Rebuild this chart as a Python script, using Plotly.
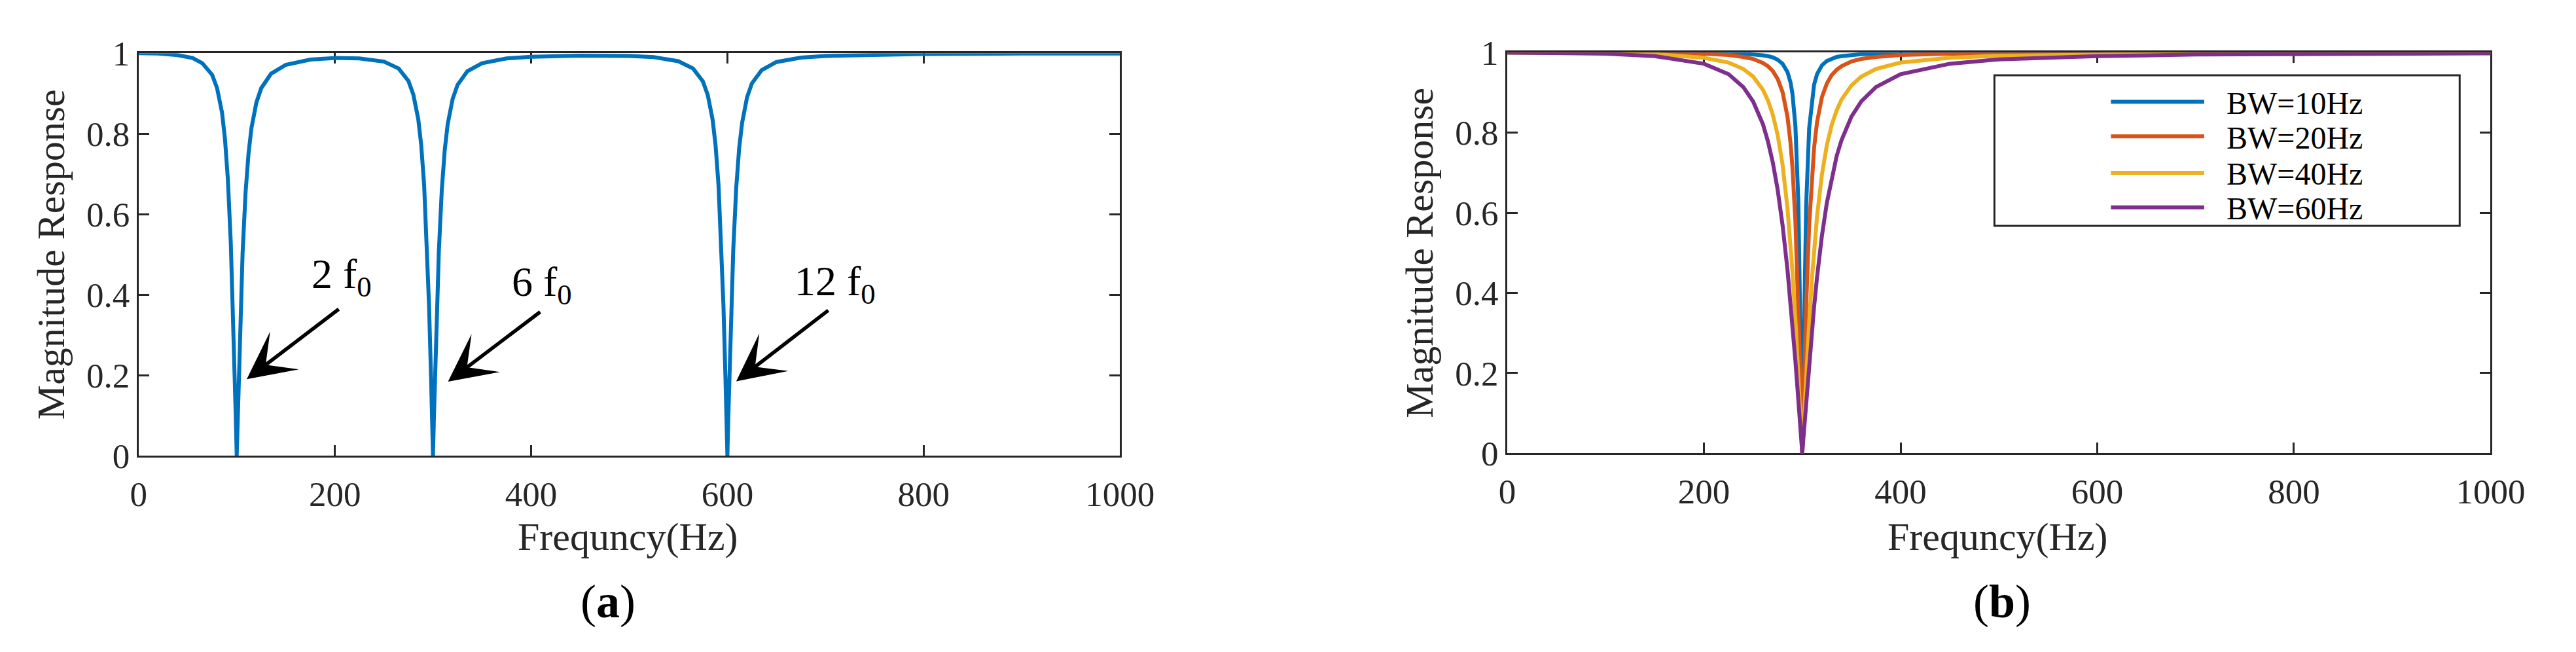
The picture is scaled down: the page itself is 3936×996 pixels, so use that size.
import plotly.graph_objects as go

# ---------------- data ----------------
FREQ_A = [0, 20, 40, 55, 65, 75, 80, 85, 88, 91, 94, 96, 98, 99, 100, 101, 102, 104, 106, 109,
          112, 115, 120, 125, 135, 150, 175, 200, 225, 250, 265, 275, 280, 285, 288, 291, 294, 296, 298, 299,
          300, 301, 302, 304, 306, 309, 312, 315, 320, 325, 335, 350, 375, 400, 450, 500, 525, 550, 565, 575,
          580, 585, 588, 591, 594, 596, 598, 599, 600, 601, 602, 604, 606, 609, 612, 615, 620, 625, 635, 650,
          675, 700, 750, 800, 900, 1000]
MAG_A = [1.000, 0.999, 0.995, 0.988, 0.975, 0.946, 0.913, 0.853, 0.788, 0.686,
         0.526, 0.378, 0.198, 0.100, 0.0, 0.099, 0.194, 0.365, 0.504, 0.653,
         0.750, 0.814, 0.877, 0.913, 0.949, 0.971, 0.984, 0.988, 0.987, 0.979,
         0.962, 0.931, 0.897, 0.836, 0.772, 0.672, 0.517, 0.372, 0.196, 0.099,
         0.0, 0.099, 0.195, 0.368, 0.509, 0.661, 0.760, 0.824, 0.886, 0.921,
         0.955, 0.975, 0.987, 0.991, 0.994, 0.993, 0.990, 0.980, 0.962, 0.930,
         0.896, 0.834, 0.770, 0.671, 0.516, 0.372, 0.196, 0.099, 0.0, 0.099,
         0.195, 0.370, 0.512, 0.665, 0.764, 0.827, 0.890, 0.925, 0.958, 0.978,
         0.989, 0.993, 0.996, 0.998, 0.999, 0.999]

FREQ_B = [0, 50, 100, 150, 200, 225, 240, 250, 260, 265,
          270, 275, 280, 285, 288, 290, 293, 296, 298, 299,
          300, 301, 302, 304, 307, 310, 312, 315, 320, 325,
          330, 335, 340, 350, 360, 375, 400, 450, 500, 600,
          700, 800, 900, 1000]
MAG_BW10 = [1.000, 1.000, 1.000, 1.000, 0.999, 0.998, 0.997, 0.996, 0.993, 0.991,
            0.988, 0.982, 0.972, 0.951, 0.926, 0.897, 0.817, 0.627, 0.372, 0.196,
            0.0, 0.196, 0.370, 0.622, 0.811, 0.891, 0.920, 0.946, 0.968, 0.979,
            0.985, 0.989, 0.991, 0.994, 0.996, 0.997, 0.998, 0.999, 1.000, 1.000,
            1.000, 1.000, 1.000, 1.000]
MAG_BW20 = [1.000, 1.000, 1.000, 0.999, 0.997, 0.994, 0.989, 0.984, 0.974, 0.966,
            0.954, 0.934, 0.901, 0.839, 0.775, 0.713, 0.578, 0.374, 0.197, 0.100,
            0.0, 0.099, 0.195, 0.369, 0.569, 0.701, 0.762, 0.826, 0.889, 0.923,
            0.944, 0.957, 0.966, 0.978, 0.984, 0.989, 0.994, 0.997, 0.998, 0.999,
            0.999, 1.000, 1.000, 1.000]
MAG_BW40 = [1.000, 1.000, 0.999, 0.996, 0.987, 0.975, 0.959, 0.940, 0.907, 0.881,
            0.845, 0.794, 0.719, 0.610, 0.522, 0.453, 0.334, 0.197, 0.100, 0.050,
            0.0, 0.050, 0.099, 0.195, 0.327, 0.441, 0.507, 0.591, 0.696, 0.769,
            0.820, 0.856, 0.883, 0.918, 0.940, 0.959, 0.975, 0.987, 0.992, 0.996,
            0.998, 0.998, 0.999, 0.999]
MAG_BW60 = [1.000, 0.999, 0.997, 0.991, 0.972, 0.946, 0.914, 0.878, 0.821, 0.779,
            0.726, 0.657, 0.568, 0.457, 0.378, 0.321, 0.230, 0.133, 0.067, 0.033,
            0.0, 0.033, 0.066, 0.131, 0.225, 0.312, 0.365, 0.439, 0.543, 0.625,
            0.690, 0.742, 0.782, 0.840, 0.878, 0.914, 0.946, 0.972, 0.983, 0.991,
            0.995, 0.996, 0.997, 0.998]

BW_NAMES = ["BW=10Hz", "BW=20Hz", "BW=40Hz", "BW=60Hz"]
BW_COLORS = ["#0072BD", "#D95319", "#EDB120", "#7E2F8E"]

X_TICKS = [0, 200, 400, 600, 800, 1000]
Y_TICKS = [0, 0.2, 0.4, 0.6, 0.8, 1]
Y_TICK_TEXT = ["0", "0.2", "0.4", "0.6", "0.8", "1"]

# harmonic labels and arrows (panel a, data coords)
HARM_LABELS = ["2 f<sub>0</sub>", "6 f<sub>0</sub>", "12 f<sub>0</sub>"]
LABEL_X = [207.0, 411.0, 710.0]
LABEL_Y = [0.445, 0.425, 0.427]
ARROW_HEAD_X = [110.2, 315.3, 609.0]
ARROW_HEAD_Y = [0.190, 0.184, 0.185]
ARROW_TAIL_X = [205.0, 410.2, 703.8]
ARROW_TAIL_Y = [0.366, 0.359, 0.363]

# ---------------- figure ----------------
W, H = 3936, 996
FONT = "Liberation Serif"
AXC = "#262626"


def px(xp):
    return xp / W


def py(yp):
    return 1 - yp / H


fig = go.Figure()
fig.add_trace(go.Scatter(x=FREQ_A, y=MAG_A, mode="lines", name="Notch",
                         line=dict(color="#0072BD", width=6),
                         xaxis="x", yaxis="y", showlegend=False))
for name, vals, col in zip(BW_NAMES, [MAG_BW10, MAG_BW20, MAG_BW40, MAG_BW60], BW_COLORS):
    fig.add_trace(go.Scatter(x=FREQ_B, y=vals, mode="lines", name=name,
                             line=dict(color=col, width=6),
                             xaxis="x2", yaxis="y2", showlegend=False))

common = dict(showline=True, linecolor=AXC, linewidth=3, mirror="ticks",
              ticks="inside", ticklen=16, tickwidth=3, tickcolor=AXC,
              showgrid=False, zeroline=False, layer="below traces",
              tickfont=dict(family=FONT, size=53, color=AXC))

fig.update_layout(
    width=W, height=H, margin=dict(l=0, r=0, t=0, b=0),
    paper_bgcolor="white", plot_bgcolor="white",
    xaxis=dict(domain=[px(194), px(1719)], range=[0, 1000], tickvals=X_TICKS,
               anchor="y", ticklabelstandoff=10, **common),
    yaxis=dict(domain=[py(701), py(48)], range=[0, 1], tickvals=Y_TICKS,
               ticktext=Y_TICK_TEXT, anchor="x", **common),
    xaxis2=dict(domain=[px(2321), px(3849)], range=[0, 1000], tickvals=X_TICKS,
                anchor="y2", ticklabelstandoff=10, **common),
    yaxis2=dict(domain=[py(697), py(47)], range=[0, 1], tickvals=Y_TICKS,
                ticktext=Y_TICK_TEXT, anchor="x2", **common),
)

ann = []
# axis titles
for xc in [954, 3083]:
    ann.append(dict(x=px(xc), y=py(832), xref="paper", yref="paper", text="Frequncy(Hz)",
                    showarrow=False, xanchor="center", yanchor="middle",
                    font=dict(family=FONT, size=60, color=AXC)))
for yc_x, yc_y in [(58, 375), (2185, 372)]:
    ann.append(dict(x=px(yc_x), y=py(yc_y), xref="paper", yref="paper", text="Magnitude Response",
                    showarrow=False, xanchor="center", yanchor="middle", textangle=-90,
                    font=dict(family=FONT, size=60, color=AXC)))
# panel labels
ann.append(dict(x=px(923), y=py(938), xref="paper", yref="paper", text="(<b>a</b>)",
                showarrow=False, xanchor="center", yanchor="middle",
                font=dict(family=FONT, size=72, color="black")))
ann.append(dict(x=px(3090), y=py(938), xref="paper", yref="paper", text="(<b>b</b>)",
                showarrow=False, xanchor="center", yanchor="middle",
                font=dict(family=FONT, size=72, color="black")))
# harmonic arrows & labels
for t, lx, ly, hx, hy, tx, ty in zip(HARM_LABELS, LABEL_X, LABEL_Y, ARROW_HEAD_X, ARROW_HEAD_Y,
                                      ARROW_TAIL_X, ARROW_TAIL_Y):
    ann.append(dict(x=hx, y=hy, ax=tx, ay=ty, xref="x", yref="y", axref="x", ayref="y",
                    text="", showarrow=True, arrowhead=3, arrowsize=2.2, arrowwidth=5.5,
                    arrowcolor="black", standoff=0, startstandoff=0))
    ann.append(dict(x=lx, y=ly, xref="x", yref="y", text=t, showarrow=False,
                    xanchor="center", yanchor="middle",
                    font=dict(family=FONT, size=64, color="black")))

# custom legend (panel b)
shapes = [dict(type="rect", xref="paper", yref="paper", x0=px(3078), x1=px(3801),
               y0=py(328), y1=py(84), line=dict(color=AXC, width=3), fillcolor="white",
               layer="above")]
LEG_Y = [127, 183, 242, 298]
for name, col, ly in zip(BW_NAMES, BW_COLORS, LEG_Y):
    shapes.append(dict(type="line", xref="paper", yref="paper", x0=px(3259), x1=px(3404),
                       y0=py(ly), y1=py(ly), line=dict(color=col, width=6), layer="above"))
    ann.append(dict(x=px(3437), y=py(ly + 2), xref="paper", yref="paper", text=name,
                    showarrow=False, xanchor="left", yanchor="middle",
                    font=dict(family=FONT, size=48, color="black")))

fig.update_layout(annotations=ann, shapes=shapes)
fig.write_html("out.html")
